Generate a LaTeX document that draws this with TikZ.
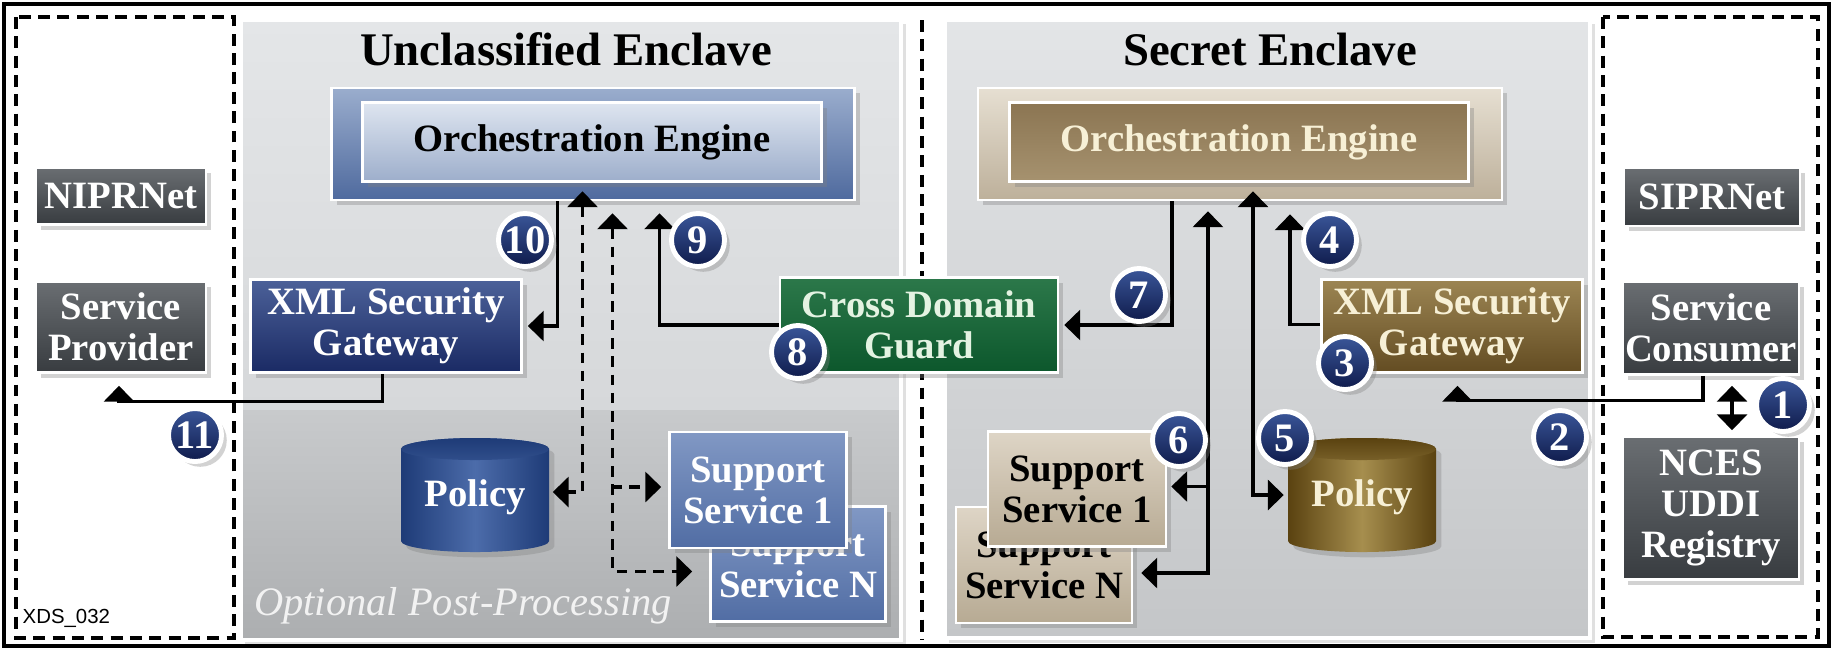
\documentclass[tikz,border=0pt]{standalone}
\usepackage{fontspec}
\setmainfont{Liberation Serif}
\newfontfamily\tagfont{Liberation Sans}
\usetikzlibrary{arrows.meta, shadows}

\definecolor{panTop}{HTML}{E4E6E8}
\definecolor{panMid}{HTML}{D6D8DA}
\definecolor{panLow}{HTML}{C8CACC}
\definecolor{panBot}{HTML}{ACAEB0}
\definecolor{secTop}{HTML}{E3E5E7}
\definecolor{secBot}{HTML}{C4C6C8}
\definecolor{netTop}{HTML}{6A6E72}
\definecolor{netBot}{HTML}{383C40}
\definecolor{uOutTop}{HTML}{9AADCD}
\definecolor{uOutBot}{HTML}{4F6A9E}
\definecolor{uInTop}{HTML}{DEE5F0}
\definecolor{uInBot}{HTML}{9DAECB}
\definecolor{sOutTop}{HTML}{E6DFD2}
\definecolor{sOutBot}{HTML}{BDB09A}
\definecolor{sInTop}{HTML}{8B7552}
\definecolor{sInBot}{HTML}{A6926F}
\definecolor{uGwTop}{HTML}{4C6199}
\definecolor{uGwBot}{HTML}{1A2A64}
\definecolor{sGwTop}{HTML}{9C8553}
\definecolor{sGwBot}{HTML}{634C22}
\definecolor{cdgTop}{HTML}{2C784A}
\definecolor{cdgBot}{HTML}{0C572C}
\definecolor{uSsTop}{HTML}{8198C4}
\definecolor{uSsBot}{HTML}{516DA4}
\definecolor{sSsTop}{HTML}{DED5C6}
\definecolor{sSsBot}{HTML}{B7AA93}
\definecolor{uPolSide}{HTML}{1E3B77}
\definecolor{uPolMid}{HTML}{4C6CAA}
\definecolor{sPolSide}{HTML}{5A4210}
\definecolor{sPolMid}{HTML}{A68E4E}
\definecolor{badgeTop}{HTML}{3A5699}
\definecolor{badgeBot}{HTML}{0F1B4B}
\definecolor{cream}{HTML}{F7F0D6}
\definecolor{mint}{HTML}{E4F3E2}

\tikzset{
  shadowed/.style={drop shadow={shadow xshift=1.5pt, shadow yshift=-1.5pt, opacity=0.35}},
  box/.style={draw=white, line width=0.7pt, align=center, inner sep=0pt, shadowed,
    font=\bfseries\fontsize{11}{11.6}\selectfont},
  netbox/.style={box, top color=netTop, bottom color=netBot, text=white},
  ugwbox/.style={box, top color=uGwTop, bottom color=uGwBot, text=white},
  sgwbox/.style={box, top color=sGwTop, bottom color=sGwBot, text=cream},
  guardbox/.style={box, top color=cdgTop, bottom color=cdgBot, text=mint},
  usupport/.style={box, top color=uSsTop, bottom color=uSsBot, text=white},
  ssupport/.style={box, top color=sSsTop, bottom color=sSsBot, text=black},
  inbox/.style={box, line width=1pt},
  badge/.style={circle, draw=white, line width=1.4pt, minimum size=0.53cm, inner sep=0pt,
    top color=badgeTop, bottom color=badgeBot, text=white, shadowed,
    font=\bfseries\fontsize{11.5}{11.5}\selectfont},
  arr/.style={line width=0.9pt, >={Triangle[width=8.5pt, length=4.5pt]}, ->},
  dotarr/.style={arr, dash pattern=on 3pt off 2.2pt},
  fence/.style={line width=1.1pt, dash pattern=on 3.4pt off 2.1pt},
  title/.style={anchor=base, font=\bfseries\fontsize{13.3}{14}\selectfont},
}

% policy drum: centre x, centre y, side colour, middle colour
\newcommand{\policydrum}[4]{%
  \path [shade, left color=#3, right color=#3, middle color=#4, shadowed]
    (#1, #2) ++(-74, -46) -- ++(0, 92)
    arc [start angle=180, end angle=360, x radius=0.74cm, y radius=0.11cm]
    -- ++(0, -92)
    arc [start angle=0, end angle=180, x radius=0.74cm, y radius=0.11cm] -- cycle;
  \shade [top color=#3, bottom color=#4] (#1, #2) ++(0, -46) ellipse [x radius=0.74cm, y radius=0.11cm];
}

\begin{document}
\begin{tikzpicture}[x=0.01cm, y=-0.01cm]
\useasboundingbox (0, 0) rectangle (1833, 650);
\fill [white] (0, 0) rectangle (1833, 650);
\draw [line width=1.3pt] (4, 4) rectangle (1829, 646);

% enclaves
\fill [black, opacity=0.12] (245, 24) rectangle (906, 645);
\shade [top color=panTop, bottom color=panMid] (241, 20) rectangle (901, 410);
\shade [top color=panLow, bottom color=panBot] (241, 410) rectangle (901, 640);
\draw [white, line width=1.2pt] (241, 20) rectangle (901, 640);
\fill [black, opacity=0.12] (949, 24) rectangle (1595, 643);
\shade [top color=secTop, bottom color=secBot] (945, 20) rectangle (1590, 638);
\draw [white, line width=1.2pt] (945, 20) rectangle (1590, 638);
\draw [fence] (16, 17) rectangle (234, 638);
\draw [fence] (1603, 17) rectangle (1818, 637);
\draw [fence, line width=0.9pt] (922, 20) -- (922, 640);

\node [title] (utitle) at (566, 65) {Unclassified Enclave};
\node [title] (stitle) at (1270, 65) {Secret Enclave};

% networks
\node [netbox, minimum width=1.70cm, minimum height=0.57cm] (nipr) at (121, 196) {NIPRNet};
\node [netbox, minimum width=1.70cm, minimum height=0.91cm] (prov) at (121, 327) {Service\\Provider};
\node [netbox, minimum width=1.76cm, minimum height=0.58cm] (sipr) at (1712, 197) {SIPRNet};
\node [netbox, minimum width=1.76cm, minimum height=0.93cm] (cons) at (1711, 328) {Service\\Consumer};
\node [netbox, minimum width=1.76cm, minimum height=1.43cm] (nces) at (1711, 508) {NCES\\UDDI\\Registry};

% engines
\node [box, top color=uOutTop, bottom color=uOutBot, minimum width=5.23cm, minimum height=1.12cm] (ueng) at (593, 144) {};
\node [inbox, top color=uInTop, bottom color=uInBot, minimum width=4.59cm, minimum height=0.79cm] (uengin) at (592, 142) {Orchestration Engine};
\node [box, top color=sOutTop, bottom color=sOutBot, minimum width=5.24cm, minimum height=1.12cm] (seng) at (1240, 144) {};
\node [inbox, top color=sInTop, bottom color=sInBot, text=cream, minimum width=4.59cm, minimum height=0.79cm] (sengin) at (1239, 142) {Orchestration Engine};

% gateways and guard
\node [ugwbox, minimum width=2.71cm, minimum height=0.93cm] (ugw) at (386, 326) {XML Security\\Gateway};
\node [guardbox, minimum width=2.78cm, minimum height=0.95cm] (cdg) at (919, 325) {Cross Domain\\Guard};
\node [sgwbox, minimum width=2.61cm, minimum height=0.93cm] (sgw) at (1452, 326) {XML Security\\Gateway};

% support services
\node [usupport, minimum width=1.75cm, minimum height=1.15cm] (ussn) at (798, 564) {Support\\Service N};
\node [usupport, minimum width=1.77cm, minimum height=1.16cm] (uss1) at (758, 490) {Support\\Service 1};
\node [ssupport, minimum width=1.76cm, minimum height=1.16cm] (sssn) at (1044, 565) {Support\\Service N};
\node [ssupport, minimum width=1.78cm, minimum height=1.15cm] (sss1) at (1077, 489) {Support\\Service 1};

% policy stores
\policydrum{475}{495}{uPolSide}{uPolMid}
\policydrum{1362}{495}{sPolSide}{sPolMid}
\node [font=\bfseries\fontsize{11}{11}\selectfont, text=white, minimum width=1.48cm, minimum height=1.14cm, inner sep=0pt] (upol) at (475, 497) {Policy};
\node [font=\bfseries\fontsize{11}{11}\selectfont, text=cream, minimum width=1.49cm, minimum height=1.14cm, inner sep=0pt] (spol) at (1362, 497) {Policy};

\node [anchor=base, font=\itshape\fontsize{11.5}{12}\selectfont, text=white!95!black] (post) at (463, 615) {Optional Post-Processing};
\node [anchor=west, inner sep=0pt, font=\tagfont\fontsize{5.8}{6}\selectfont] (tag) at (22, 618) {XDS\_032};

% message flow
\draw [arr, <->] ([xshift=0.21cm, yshift=-0.1cm]cons.south) -- ([xshift=0.21cm, yshift=0.05cm]nces.north);
\draw [arr] ([xshift=-0.08cm]cons.south) -- ++(0, 25) -| ([xshift=0.055cm, yshift=-0.12cm]sgw.south);
\draw [arr] ([yshift=0.015cm]sgw.west) -| ([xshift=0.5cm, yshift=-0.13cm]seng.south);
\draw [arr, <->] ([xshift=0.13cm, yshift=0.1cm]seng.south) |- ([xshift=-0.03cm, yshift=0.02cm]spol.west);
\draw [arr, <->] ([xshift=-0.32cm, yshift=-0.1cm]seng.south) |- ([xshift=0.08cm, yshift=-0.08cm]sssn.east);
\draw [arr] ([xshift=0.42cm, yshift=0.025cm]sss1.east) -- ([xshift=0.04cm, yshift=0.025cm]sss1.east);
\draw [arr] ([xshift=-0.68cm]seng.south) |- ([xshift=0.05cm]cdg.east);
\draw [arr] (cdg.west) -| ([xshift=0.665cm, yshift=-0.12cm]ueng.south);
\draw [arr] ([xshift=-0.355cm]ueng.south) |- ([xshift=0.05cm]ugw.east);
\draw [arr] ([xshift=-0.035cm]ugw.south) -- ++(0, 28) -| ([xshift=-0.02cm, yshift=-0.12cm]prov.south);
\draw [dotarr, <->] ([xshift=-0.105cm, yshift=0.1cm]ueng.south) |- ([xshift=0.03cm, yshift=0.05cm]upol.east);
\draw [dotarr, <->] ([xshift=0.195cm, yshift=-0.12cm]ueng.south) |- ([xshift=-0.17cm, yshift=-0.075cm]ussn.west);
\draw [dotarr] ([xshift=-0.57cm, yshift=0.03cm]uss1.west) -- ([xshift=-0.07cm, yshift=0.03cm]uss1.west);

% step numbers
\node [badge] (b1) at (1783, 405) {1};
\node [badge] (b2) at (1560, 437) {2};
\node [badge] (b3) at (1345, 363) {3};
\node [badge] (b4) at (1330, 240) {4};
\node [badge] (b5) at (1285, 438) {5};
\node [badge] (b6) at (1179, 440) {6};
\node [badge] (b7) at (1139, 295) {7};
\node [badge] (b8) at (798, 352) {8};
\node [badge] (b9) at (698, 240) {9};
\node [badge] (b10) at (525, 240) {10};
\node [badge] (b11) at (195, 435) {11};
\end{tikzpicture}
\end{document}
